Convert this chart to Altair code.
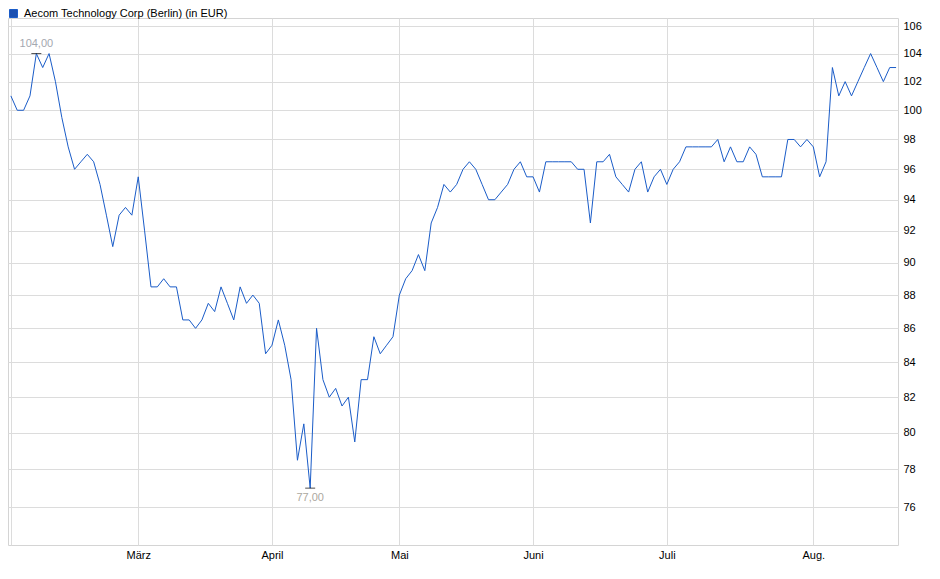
import altair as alt
import pandas as pd
import numpy as np

series_name = "Aecom Technology Corp (Berlin) (in EUR)"

# closing prices per trading day (Feb 3 .. Aug 19)
prices = [
    101, 100, 100, 101, 104, 103, 104, 102, 99.5, 97.5,
    96, 96.5, 97, 96.5, 95, 93, 91, 93, 93.5, 93,
    95.5, 92, 88.5, 88.5, 89, 88.5, 88.5, 86.5, 86.5, 86,
    86.5, 87.5, 87, 88.5, 87.5, 86.5, 88.5, 87.5, 88, 87.5,
    84.5, 85, 86.5, 85, 83, 78.5, 80.5, 77, 86, 83,
    82, 82.5, 81.5, 82, 79.5, 83, 83, 85.5, 84.5, 85,
    85.5, 88, 89, 89.5, 90.5, 89.5, 92.5, 93.5, 95, 94.5,
    95, 96, 96.5, 96, 95, 94, 94, 94.5, 95, 96,
    96.5, 95.5, 95.5, 94.5, 96.5, 96.5, 96.5, 96.5, 96.5, 96,
    96, 92.5, 96.5, 96.5, 97, 95.5, 95, 94.5, 96, 96.5,
    94.5, 95.5, 96, 95, 96, 96.5, 97.5, 97.5, 97.5, 97.5,
    97.5, 98, 96.5, 97.5, 96.5, 96.5, 97.5, 97, 95.5, 95.5,
    95.5, 95.5, 98, 98, 97.5, 98, 97.5, 95.5, 96.5, 103,
    101, 102, 101, 102, 103, 104, 103, 102, 103, 103,
]

# first trading day of each month (index) and its label
month_ticks = [0, 20, 41, 61, 82, 103, 126]
month_labels = ["", "März", "April", "Mai", "Juni", "Juli", "Aug."]
y_ticks = list(range(76, 107, 2))

df = pd.DataFrame({"i": list(range(len(prices))), "price": prices, "series": series_name})

imax = int(np.argmax(prices))
imin = int(np.argmin(prices))
ext = pd.DataFrame({
    "i": [imax, imin],
    "price": [prices[imax], prices[imin]],
    "label": [f"{prices[imax]:.2f}".replace(".", ","), f"{prices[imin]:.2f}".replace(".", ",")],
    "pos": ["top", "bottom"],
})

expr = "''"
for v, lab in zip(month_ticks, month_labels):
    expr = f"datum.value == {v} ? '{lab}' : ({expr})"

FONT = "Liberation Sans"
GRID = "#dcdcdc"

x = alt.X("i:Q", title=None,
          scale=alt.Scale(domain=[-0.45, 139.3], nice=False, zero=False),
          axis=alt.Axis(values=month_ticks, labelExpr=expr, grid=True, gridColor=GRID,
                        domain=False, ticks=False, labelFontSize=11, labelColor="#000",
                        labelPadding=4, labelFont=FONT))
y = alt.Y("price:Q", title=None,
          scale=alt.Scale(type="log", domain=[74.03, 106.59], nice=False, zero=False),
          axis=alt.Axis(orient="right", values=y_ticks, format="d", grid=True, gridColor=GRID,
                        domain=False, ticks=False, labelFontSize=11, labelColor="#000",
                        labelPadding=5, labelFont=FONT))

line = alt.Chart(df).mark_line(strokeWidth=1, interpolate="linear").encode(
    x=x, y=y,
    color=alt.Color("series:N",
                    scale=alt.Scale(domain=[series_name], range=["#1a5cc8"]),
                    legend=alt.Legend(title=None, orient="none", legendX=0, legendY=-10,
                                      symbolType="square", symbolSize=64,
                                      symbolFillColor="#1a4fb0", symbolStrokeColor="#1a2a50",
                                      symbolStrokeWidth=1, symbolOpacity=1,
                                      labelFontSize=11, labelFont=FONT, labelColor="#000",
                                      labelOffset=5, labelLimit=500, padding=0)),
)

ticks = alt.Chart(ext).mark_tick(orient="horizontal", size=10, thickness=1, color="#000").encode(
    x=alt.X("i:Q"), y=alt.Y("price:Q"))

txt_top = alt.Chart(ext).transform_filter("datum.pos == 'top'").mark_text(
    dy=-10, fontSize=11, font=FONT, color="#a4a8b0").encode(
    x=alt.X("i:Q"), y=alt.Y("price:Q"), text="label:N")
txt_bot = alt.Chart(ext).transform_filter("datum.pos == 'bottom'").mark_text(
    dy=10, fontSize=11, font=FONT, color="#aca8a0").encode(
    x=alt.X("i:Q"), y=alt.Y("price:Q"), text="label:N")

chart = alt.layer(line, ticks, txt_top, txt_bot).properties(
    width=890, height=527,
    autosize=alt.AutoSizeParams(type="none"),
    padding={"left": 0, "top": 10, "right": 34, "bottom": 26},
    background="white",
).configure_view(stroke="#d4d4d4", strokeWidth=1)

chart.save("out.html", embed_options={"renderer": "svg", "actions": False})
